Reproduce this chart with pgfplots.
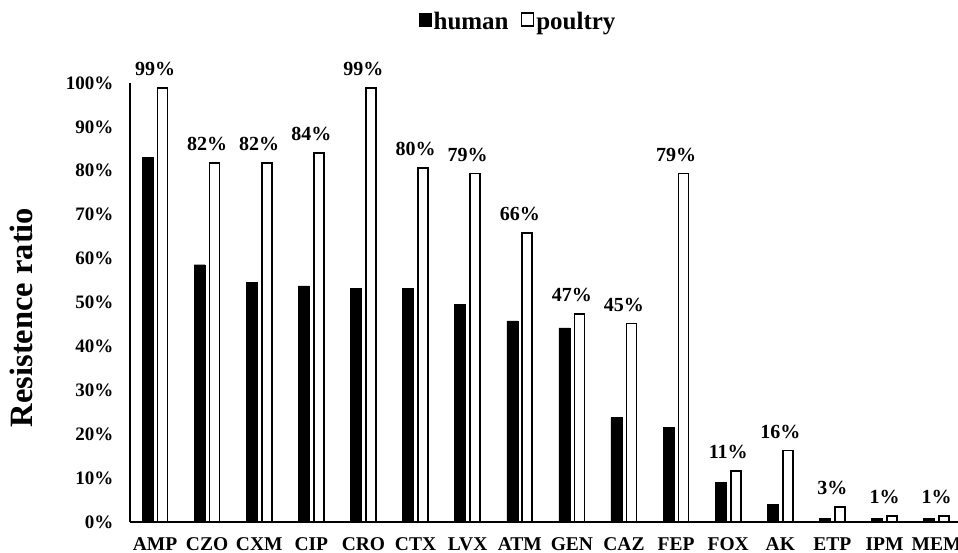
\documentclass[border=0pt]{standalone}
\usepackage{fontspec}
\setmainfont{Liberation Serif}
\usepackage{pgfplots}
\usepackage{pgfplotstable}
\pgfplotsset{compat=1.18}

% resistance ratios (%)
\pgfplotstableread{
x  cat  human  poultry  lab
0  AMP  83.0   98.8     99
1  CZO  58.6   81.8     82
2  CXM  54.6   81.8     82
3  CIP  53.8   84.0     84
4  CRO  53.2   98.8     99
5  CTX  53.2   80.6     80
6  LVX  49.5   79.4     79
7  ATM  45.8   65.8     66
8  GEN  44.2   47.4     47
9  CAZ  23.8   45.2     45
10 FEP  21.6   79.4     79
11 FOX  9.0    11.6     11
12 AK   4.0    16.3     16
13 ETP  0.8    3.4      3
14 IPM  0.8    1.3      1
15 MEM  0.8    1.3      1
}\resist

\begin{document}
\begin{tikzpicture}
\begin{axis}[
  at={(0,0)}, anchor=south west,
  scale only axis,
  width=828pt, height=439pt,
  xmin=-0.48, xmax=15.41,
  ymin=0, ymax=100,
  clip=false,
  axis x line*=bottom,
  axis y line*=left,
  axis line style={line width=1.1pt},
  major tick length=0pt,
  xtick={0,1,...,15},
  xticklabels from table={\resist}{cat},
  xticklabel style={font=\fontsize{19.5}{21}\selectfont\bfseries, yshift=-12pt},
  ytick={0,10,...,100},
  yticklabels={0\%,10\%,20\%,30\%,40\%,50\%,60\%,70\%,80\%,90\%,100\%},
  yticklabel style={font=\fontsize{19}{21}\selectfont\bfseries, xshift=-13pt},
  legend columns=2,
  legend style={at={(rel axis cs:0.469,1.139)}, anchor=center, draw=none,
    font=\fontsize{25}{27}\selectfont\bfseries,
    /tikz/every even column/.append style={column sep=10pt}},
  legend image code/.code={\draw[#1] (-1pt,-4pt) rectangle (11pt,9pt);},
]
\addplot[ybar, bar width=11pt, bar shift=-7.5pt, fill=black, draw=black, line width=0.4pt]
  table[x=x, y=human] {\resist};
\addplot[ybar, bar width=10pt, bar shift=7.5pt, fill=white, draw=black, line width=1.6pt,
  point meta=explicit symbolic,
  nodes near coords={\pgfplotspointmeta\%},
  every node near coord/.append style={font=\fontsize{20}{22}\selectfont\bfseries, yshift=8pt}]
  table[x=x, y=poultry, meta=lab] {\resist};
\legend{human, poultry}
\end{axis}
\node[rotate=90, anchor=base, font=\fontsize{32.5}{34}\selectfont\bfseries] at (-97pt,204.5pt) {Resistence ratio};
\pgfresetboundingbox
\useasboundingbox (-130pt,-31pt) rectangle (828pt,522pt);
\end{tikzpicture}
\end{document}
